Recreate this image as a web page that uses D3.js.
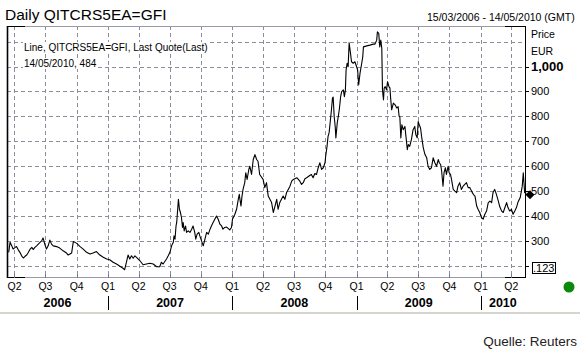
<!DOCTYPE html>
<html><head><meta charset="utf-8">
<script src="https://cdn.jsdelivr.net/npm/d3@7"></script>
<style>body{margin:0;background:#fff}svg{display:block}text{font-family:"Liberation Sans",Arial,sans-serif}</style>
</head><body><svg id="c" width="580" height="359"></svg>
<script>
const dates = ["2006-03-15","2006-03-19","2006-03-24","2006-03-28","2006-04-03","2006-04-07","2006-04-12","2006-04-17","2006-04-22","2006-04-27","2006-05-02","2006-05-07","2006-05-12","2006-05-17","2006-05-22","2006-05-26","2006-05-31","2006-06-05","2006-06-10","2006-06-15","2006-06-20","2006-06-24","2006-06-29","2006-07-04","2006-07-09","2006-07-14","2006-07-19","2006-07-24","2006-08-03","2006-08-12","2006-08-22","2006-09-01","2006-09-06","2006-09-11","2006-09-16","2006-09-21","2006-09-26","2006-10-01","2006-10-11","2006-10-20","2006-10-30","2006-11-09","2006-11-18","2006-11-28","2006-12-08","2006-12-18","2006-12-28","2007-01-06","2007-01-16","2007-01-26","2007-02-05","2007-02-14","2007-02-19","2007-02-24","2007-03-01","2007-03-06","2007-03-11","2007-03-16","2007-03-21","2007-03-26","2007-03-31","2007-04-05","2007-04-14","2007-04-24","2007-05-04","2007-05-14","2007-05-24","2007-06-02","2007-06-07","2007-06-12","2007-06-22","2007-06-27","2007-07-02","2007-07-07","2007-07-12","2007-07-14","2007-07-17","2007-07-20","2007-07-22","2007-07-27","2007-07-30","2007-08-02","2007-08-05","2007-08-08","2007-08-10","2007-08-13","2007-08-17","2007-08-20","2007-08-25","2007-08-30","2007-09-04","2007-09-08","2007-09-13","2007-09-16","2007-09-20","2007-09-25","2007-09-28","2007-10-03","2007-10-08","2007-10-13","2007-10-18","2007-10-23","2007-10-28","2007-11-01","2007-11-06","2007-11-11","2007-11-16","2007-11-21","2007-11-26","2007-12-01","2007-12-05","2007-12-10","2007-12-15","2007-12-20","2007-12-25","2007-12-30","2008-01-02","2008-01-09","2008-01-14","2008-01-19","2008-01-22","2008-01-24","2008-01-27","2008-01-30","2008-02-02","2008-02-07","2008-02-10","2008-02-14","2008-02-19","2008-02-22","2008-02-27","2008-03-03","2008-03-08","2008-03-13","2008-03-17","2008-03-22","2008-04-01","2008-04-06","2008-04-11","2008-04-16","2008-04-21","2008-04-26","2008-05-01","2008-05-06","2008-05-11","2008-05-15","2008-05-20","2008-05-25","2008-05-30","2008-06-04","2008-06-09","2008-06-14","2008-06-19","2008-06-24","2008-06-29","2008-07-09","2008-07-18","2008-07-23","2008-07-28","2008-08-02","2008-08-07","2008-08-16","2008-08-21","2008-08-26","2008-08-31","2008-09-05","2008-09-10","2008-09-15","2008-09-20","2008-09-25","2008-09-30","2008-10-02","2008-10-06","2008-10-09","2008-10-12","2008-10-16","2008-10-19","2008-10-22","2008-10-24","2008-10-27","2008-10-30","2008-11-01","2008-11-05","2008-11-08","2008-11-11","2008-11-15","2008-11-18","2008-11-23","2008-11-26","2008-11-29","2008-12-01","2008-12-04","2008-12-07","2008-12-10","2008-12-14","2008-12-17","2008-12-22","2008-12-27","2009-01-01","2009-01-04","2009-01-07","2009-01-11","2009-01-16","2009-01-19","2009-01-21","2009-01-31","2009-02-09","2009-02-19","2009-02-24","2009-03-01","2009-03-03","2009-03-07","2009-03-10","2009-03-13","2009-03-16","2009-03-18","2009-03-21","2009-03-23","2009-03-26","2009-03-30","2009-04-02","2009-04-06","2009-04-09","2009-04-11","2009-04-14","2009-04-19","2009-04-24","2009-04-29","2009-05-03","2009-05-06","2009-05-08","2009-05-11","2009-05-14","2009-05-18","2009-05-23","2009-05-26","2009-05-30","2009-06-02","2009-06-06","2009-06-11","2009-06-16","2009-06-21","2009-06-24","2009-06-28","2009-07-01","2009-07-04","2009-07-08","2009-07-11","2009-07-16","2009-07-21","2009-07-26","2009-07-30","2009-08-04","2009-08-09","2009-08-14","2009-08-19","2009-08-24","2009-08-29","2009-09-01","2009-09-05","2009-09-08","2009-09-12","2009-09-15","2009-09-19","2009-09-22","2009-09-27","2009-09-30","2009-10-04","2009-10-07","2009-10-12","2009-10-17","2009-10-22","2009-10-26","2009-10-31","2009-11-05","2009-11-10","2009-11-15","2009-11-20","2009-11-25","2009-11-30","2009-12-05","2009-12-10","2009-12-15","2009-12-20","2009-12-24","2009-12-29","2010-01-03","2010-01-08","2010-01-13","2010-01-18","2010-01-23","2010-01-28","2010-02-02","2010-02-06","2010-02-11","2010-02-16","2010-02-21","2010-02-26","2010-03-03","2010-03-08","2010-03-13","2010-03-18","2010-03-22","2010-03-27","2010-04-01","2010-04-06","2010-04-11","2010-04-16","2010-04-20","2010-04-27","2010-05-03","2010-05-06","2010-05-10","2010-05-12","2010-05-14"];
const values = [253,293,279,266,273,276,263,253,239,230,237,242,253,266,273,264,273,279,286,293,299,311,286,266,279,302,286,279,276,270,259,250,242,246,250,296,293,289,276,266,253,246,250,256,242,233,226,223,213,206,197,189,183,213,242,226,239,229,239,233,226,219,203,206,209,206,195,195,213,206,226,239,253,279,293,319,306,359,373,466,426,413,393,353,373,339,359,333,339,333,346,359,333,306,326,333,319,299,279,306,333,326,346,359,373,386,399,386,366,359,346,353,355,349,343,353,386,406,426,466,486,466,439,479,506,533,573,546,586,599,566,626,646,626,619,566,546,513,533,479,466,453,413,439,466,426,453,466,479,466,493,506,519,539,546,553,539,526,533,549,553,562,566,553,570,566,593,613,586,593,613,639,679,719,733,786,826,873,877,799,759,713,773,799,826,879,899,906,879,906,986,1013,999,1095,1053,1019,1013,1019,999,986,926,973,1013,1039,1079,1083,1086,1090,1090,1106,1139,1133,1079,1106,1073,906,866,913,919,906,939,919,913,873,826,853,846,833,839,799,799,713,766,746,759,719,666,686,679,706,746,759,726,713,779,766,753,719,673,646,633,599,586,593,633,613,599,626,613,606,579,519,573,593,566,599,573,566,546,506,499,493,519,533,506,519,526,533,513,513,499,486,479,439,426,413,393,386,406,419,453,459,453,493,506,486,462,436,420,413,433,453,433,419,426,406,419,433,453,473,519,573,493,499,484];
const priceTicks = [300,400,500,600,700,800,900,1000];
const gridValues = [200,300,400,500,600,700,800,900,1000,1100];
const years = [2006,2007,2008,2009,2010];
const lastQuote = 484;
const minBoxLabel = ".123";

const parse = d3.utcParse("%Y-%m-%d");
const data = dates.map((d,i)=>({date:parse(d), value:values[i]}));
const L=7, R=525, T=26, B=277;
const x = d3.scaleUtc().domain([parse("2006-03-10"), parse("2010-05-14")]).range([7,526]);
const y = d3.scaleLinear().domain([200,1000]).range([265.5,66.5]);
const svg = d3.select("#c");
const gridCol="#8c8c9c";

const quarters = d3.utcMonth.every(3).range(parse("2006-04-01"), parse("2010-04-02")).filter(d=>d.getUTCMonth()%3===0);
// gridlines
svg.append("g").selectAll("line").data(gridValues).join("line")
  .attr("x1",L).attr("x2",R).attr("y1",d=>Math.round(y(d))+0.5).attr("y2",d=>Math.round(y(d))+0.5)
  .attr("stroke",gridCol).attr("stroke-dasharray","4,3");
svg.append("g").selectAll("line").data(quarters).join("line")
  .attr("x1",d=>Math.round(x(d))+0.5).attr("x2",d=>Math.round(x(d))+0.5).attr("y1",T).attr("y2",B)
  .attr("stroke",gridCol).attr("stroke-dasharray","4,3");

// legend text with white background
const leg = svg.append("g");
["Line, QITCRS5EA=GFI, Last Quote(Last)", "14/05/2010, " + lastQuote].forEach((t,i)=>{
  const tx = leg.append("text").attr("x",24).attr("y",51+i*16).attr("font-size",10).attr("fill","#000").text(t);
  const bb = tx.node().getBBox();
  leg.insert("rect","text").attr("x",bb.x-1).attr("y",bb.y).attr("width",bb.width+2).attr("height",bb.height).attr("fill","#fff");
});

// frame
svg.append("line").attr("x1",L).attr("x2",R).attr("y1",T+0.5).attr("y2",T+0.5).attr("stroke","#9a9aaa");
svg.append("line").attr("x1",L).attr("x2",R).attr("y1",B+0.5).attr("y2",B+0.5).attr("stroke","#9a9aaa");
[[L,25],[505,R]].forEach(([a,b])=>{
  svg.append("line").attr("x1",a).attr("x2",b).attr("y1",T+0.5).attr("y2",T+0.5).attr("stroke","#000");
  svg.append("line").attr("x1",a).attr("x2",b).attr("y1",B+0.5).attr("y2",B+0.5).attr("stroke","#000");
});
svg.append("line").attr("x1",L+0.5).attr("x2",L+0.5).attr("y1",T).attr("y2",B+1).attr("stroke","#000").attr("stroke-width",1.6);
svg.append("line").attr("x1",R+0.5).attr("x2",R+0.5).attr("y1",T).attr("y2",B+1).attr("stroke","#000");

// bottom quarter ticks
svg.append("g").selectAll("line").data(quarters).join("line")
  .attr("x1",d=>Math.round(x(d))+0.5).attr("x2",d=>Math.round(x(d))+0.5).attr("y1",B-3).attr("y2",B+1)
  .attr("stroke","#777788");

// line
svg.append("clipPath").attr("id","clip").append("rect").attr("x",L).attr("y",T).attr("width",R-L+2).attr("height",B-T);
svg.append("path").datum(data).attr("clip-path","url(#clip)")
  .attr("d",d3.line().x(d=>x(d.date)).y(d=>y(d.value)))
  .attr("fill","none").attr("stroke","#000").attr("stroke-width",1.1).attr("stroke-linejoin","round");

// last quote diamond
const last = data[data.length-1];
const dx = x(last.date)+4, dy = y(lastQuote);
svg.append("path").attr("d",`M${dx-4.5},${dy}L${dx},${dy-4.5}L${dx+4.5},${dy}L${dx},${dy+4.5}Z`).attr("fill","#000");

// right axis
const ra = svg.append("g");
ra.selectAll("line").data([200].concat(priceTicks)).join("line")
  .attr("x1",R).attr("x2",R+4).attr("y1",d=>Math.round(y(d))+0.5).attr("y2",d=>Math.round(y(d))+0.5).attr("stroke","#000");
const fmt = d3.format(",");
ra.selectAll("text").data(priceTicks).join("text")
  .attr("x",531).attr("y",d=>y(d)+4)
  .attr("font-size",d=>d===1000?13:11).attr("font-weight",d=>d===1000?"bold":"normal")
  .attr("fill","#000").text(d=>fmt(d));
ra.append("text").attr("x",531).attr("y",38).attr("font-size",10.5).text("Price");
ra.append("text").attr("x",531).attr("y",55).attr("font-size",10.5).text("EUR");
const mt = ra.append("text").attr("x",533).attr("y",y(200)+6.5).attr("font-size",11).text(minBoxLabel);
const mb = mt.node().getBBox();
ra.append("rect").attr("x",Math.round(mb.x)-0.5).attr("y",Math.round(mb.y)+0.5).attr("width",Math.round(mb.width)+2).attr("height",Math.round(mb.height)-1).attr("fill","none").attr("stroke","#000");

// x axis labels
svg.append("g").selectAll("text").data(quarters).join("text")
  .attr("x",d=>x(d)).attr("y",290).attr("text-anchor","middle").attr("font-size",10.5)
  .text(d=>"Q"+(Math.floor(d.getUTCMonth()/3)+1));
const yearStarts = years.slice(1).map(yv=>parse(yv+"-01-01"));
svg.append("g").selectAll("line").data(yearStarts).join("line")
  .attr("x1",d=>Math.round(x(d))+0.5).attr("x2",d=>Math.round(x(d))+0.5).attr("y1",296).attr("y2",310).attr("stroke","#000");
svg.append("g").selectAll("text").data(years).join("text")
  .attr("x",yv=>{const a=Math.max(L,x(parse(yv+"-01-01"))), b=Math.min(R,x(parse((yv+1)+"-01-01"))); return (a+b)/2;})
  .attr("y",307).attr("text-anchor","middle").attr("font-size",12.5).attr("font-weight","bold").text(yv=>yv);

// separator, status dot
svg.append("line").attr("x1",0).attr("x2",580).attr("y1",313).attr("y2",313).attr("stroke","#d6d6ce").attr("stroke-width",2);
svg.append("circle").attr("cx",569).attr("cy",287).attr("r",5.5).attr("fill","#0a8a0a");

// titles
svg.append("text").attr("x",5).attr("y",20).attr("font-size",15.5).attr("fill","#000").text("Daily QITCRS5EA=GFI");
svg.append("text").attr("x",427).attr("y",21).attr("font-size",10.5).attr("fill","#000").text("15/03/2006 - 14/05/2010 (GMT)");
svg.append("text").attr("x",577).attr("y",346).attr("text-anchor","end").attr("font-size",13.5).attr("fill","#222").text("Quelle: Reuters");
</script></body></html>
